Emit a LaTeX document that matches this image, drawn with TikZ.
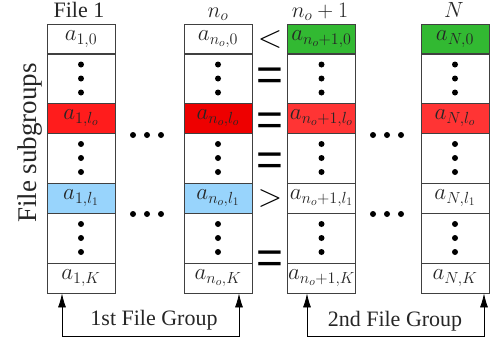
\RequirePackage{fix-cm}
\documentclass[tikz,border=0pt]{standalone}
\usepackage[no-math]{fontspec}
\setmainfont{Liberation Serif}
\newfontfamily\eqfont{Liberation Sans}
\usetikzlibrary{arrows.meta}
\definecolor{redA}{RGB}{255,28,28}
\definecolor{redB}{RGB}{238,0,0}
\definecolor{redC}{RGB}{255,52,52}
\definecolor{greenA}{RGB}{50,185,50}
\definecolor{blueA}{RGB}{152,212,252}
\begin{document}
\begin{tikzpicture}[x=1pt,y=-1pt,
  cell/.style={draw=black!75, line width=0.8pt, minimum width=68pt, minimum height=30pt,
    inner sep=0pt, text=black!85, font=\fontsize{23}{25}\selectfont},
  dcell/.style={cell, minimum height=50pt},
  head/.style={anchor=base, inner sep=0pt, font=\fontsize{22}{24}\selectfont, text=black!85},
  rel/.style={font=\fontsize{32}{34}\selectfont},
  eq/.style={inner sep=0pt, font=\eqfont\fontsize{46}{48}\selectfont},
  grouplabel/.style={font=\fontsize{22}{24}\selectfont, text=black!85},
  arr/.style={line width=0.8pt, {Latex[length=14pt,width=8pt]}-{Latex[length=14pt,width=8pt]}},
  dot/.style={fill=black}
]
\useasboundingbox (0,0) rectangle (490,341);

% column 1
\node[cell] (c1r0) at (81,39) {$a_{1,0}$};
\node[dcell] (c1d1) at (81,78.5) {};
\node[cell, fill=redA] (c1lo) at (81,118) {$a_{1,l_o}$};
\node[dcell] (c1d2) at (81,158) {};
\node[cell, fill=blueA] (c1l1) at (81,198) {$a_{1,l_1}$};
\node[dcell] (c1d3) at (81,238) {};
\node[cell] (c1K) at (81,278) {$a_{1,K}$};

% column 2
\node[cell] (c2r0) at (218,39) {$a_{n_o,0}$};
\node[dcell] (c2d1) at (218,78.5) {};
\node[cell, fill=redB] (c2lo) at (218,118) {$a_{n_o,l_o}$};
\node[dcell] (c2d2) at (218,158) {};
\node[cell, fill=blueA] (c2l1) at (218,198) {$a_{n_o,l_1}$};
\node[dcell] (c2d3) at (218,238) {};
\node[cell] (c2K) at (218,278) {$a_{n_o,K}$};

% column 3
\node[cell, fill=greenA] (c3r0) at (321.5,39) {$a_{n_o+1,0}$};
\node[dcell] (c3d1) at (321.5,78.5) {};
\node[cell, fill=redC] (c3lo) at (321.5,118) {$a_{n_o+1,l_o}$};
\node[dcell] (c3d2) at (321.5,158) {};
\node[cell] (c3l1) at (321.5,198) {$a_{n_o+1,l_1}$};
\node[dcell] (c3d3) at (321.5,238) {};
\node[cell] (c3K) at (321.5,278) {$a_{n_o+1,K}$};

% column 4
\node[cell, fill=greenA] (c4r0) at (455,39) {$a_{N,0}$};
\node[dcell] (c4d1) at (455,78.5) {};
\node[cell, fill=redC] (c4lo) at (455,118) {$a_{N,l_o}$};
\node[dcell] (c4d2) at (455,158) {};
\node[cell] (c4l1) at (455,198) {$a_{N,l_1}$};
\node[dcell] (c4d3) at (455,238) {};
\node[cell] (c4K) at (455,278) {$a_{N,K}$};

% vertical dots
\foreach \n in {c1d1,c1d2,c1d3,c2d1,c2d2,c2d3,c3d1,c3d2,c3d3,c4d1,c4d2,c4d3}
  \foreach \d in {-14,0,14}
    \fill[dot] ([yshift=\d pt]\n.center) circle[radius=3pt];

% horizontal dots
\foreach \x in {133,147,161,373,387,401}
  \foreach \y in {135,214}
    \fill[dot] (\x,\y) circle[radius=3pt];

% headers
\node[head] (h1) at (79,17) {File 1};
\node[head] (h2) at (218,17) {$n_o$};
\node[head] (h3) at (320,17) {$n_o+1$};
\node[head] (h4) at (454,17) {$N$};

% relations
\node[rel] (rel0) at (270,39) {$<$};
\node[eq] (rel1) at (270,79) {=};
\node[eq] (rel2) at (270,124.5) {=};
\node[eq] (rel3) at (270,164) {=};
\node[rel] (rel4) at (270,198) {$>$};
\node[eq] (rel5) at (270,262) {=};

% side label
\node[rotate=90, font=\fontsize{27}{30}\selectfont, text=black!85] (side) at (30,143) {File subgroups};

% groups
\coordinate (g1l) at (62,336);
\coordinate (g1r) at (239,336);
\coordinate (g2l) at (307,336);
\coordinate (g2r) at (484,336);
\draw[arr] (c1K.south -| g1l) -- (g1l) -- (g1r) -- (c2K.south -| g1r);
\draw[arr] (c3K.south -| g2l) -- (g2l) -- (g2r) -- (c4K.south -| g2r);
\node[grouplabel] (gl1) at (154,320) {1st File Group};
\node[grouplabel] (gl2) at (395,321) {2nd File Group};
\end{tikzpicture}
\end{document}
